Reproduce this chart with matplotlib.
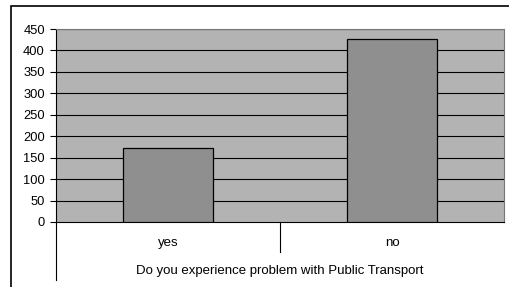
import matplotlib.pyplot as plt
from matplotlib.lines import Line2D
from matplotlib.patches import Rectangle

categories = ['yes', 'no']
counts = [172, 426]
axis_title = 'Do you experience problem with Public Transport'
y_ticks = list(range(0, 451, 50))

plt.rcParams['font.family'] = ['Liberation Sans', 'DejaVu Sans']

fig = plt.figure(figsize=(5.09, 2.87), dpi=100)
W, H = 509, 287

# outer chart frame (cut off at right and bottom like the original)
fig.add_artist(Rectangle((10.5 / W, -0.05), 1.1, 1 - 5.5 / H + 0.05,
                         transform=fig.transFigure, fill=False,
                         edgecolor='black', linewidth=1.2))

ax = fig.add_axes([56 / W, 65 / H, 448 / W, 193 / H])
ax.set_facecolor('#b3b3b3')
x = range(len(categories))
ax.bar(x, counts, width=0.4, color='#8f8f8f', edgecolor='black',
       linewidth=0.9, zorder=3)

ax.set_xlim(-0.5, 1.5)
ax.set_ylim(0, 450)
ax.set_yticks(y_ticks)
ax.tick_params(axis='y', labelsize=9.3, length=4, width=0.8, pad=4)
ax.set_xticks([])
for yv in y_ticks[1:]:
    ax.axhline(yv, color='black', linewidth=0.8, zorder=1)

for s in ['top', 'right']:
    ax.spines[s].set_color('#777777')
ax.spines['left'].set_color('black')
ax.spines['bottom'].set_color('black')

# category labels and multi-level axis lines
for i, c in enumerate(categories):
    ax.text(i, -21 / 193 * 450, c, ha='center', va='center', fontsize=9.5)
ax.text(0.5, -49 / 193 * 450, axis_title, ha='center', va='center', fontsize=9.5)
ax.add_line(Line2D([0, 0], [0, -58 / 193], transform=ax.transAxes,
                   color='black', linewidth=0.8, clip_on=False))
ax.add_line(Line2D([0.5, 0.5], [0, -30 / 193], transform=ax.transAxes,
                   color='black', linewidth=0.8, clip_on=False))

fig.savefig('out.png', dpi=100)
